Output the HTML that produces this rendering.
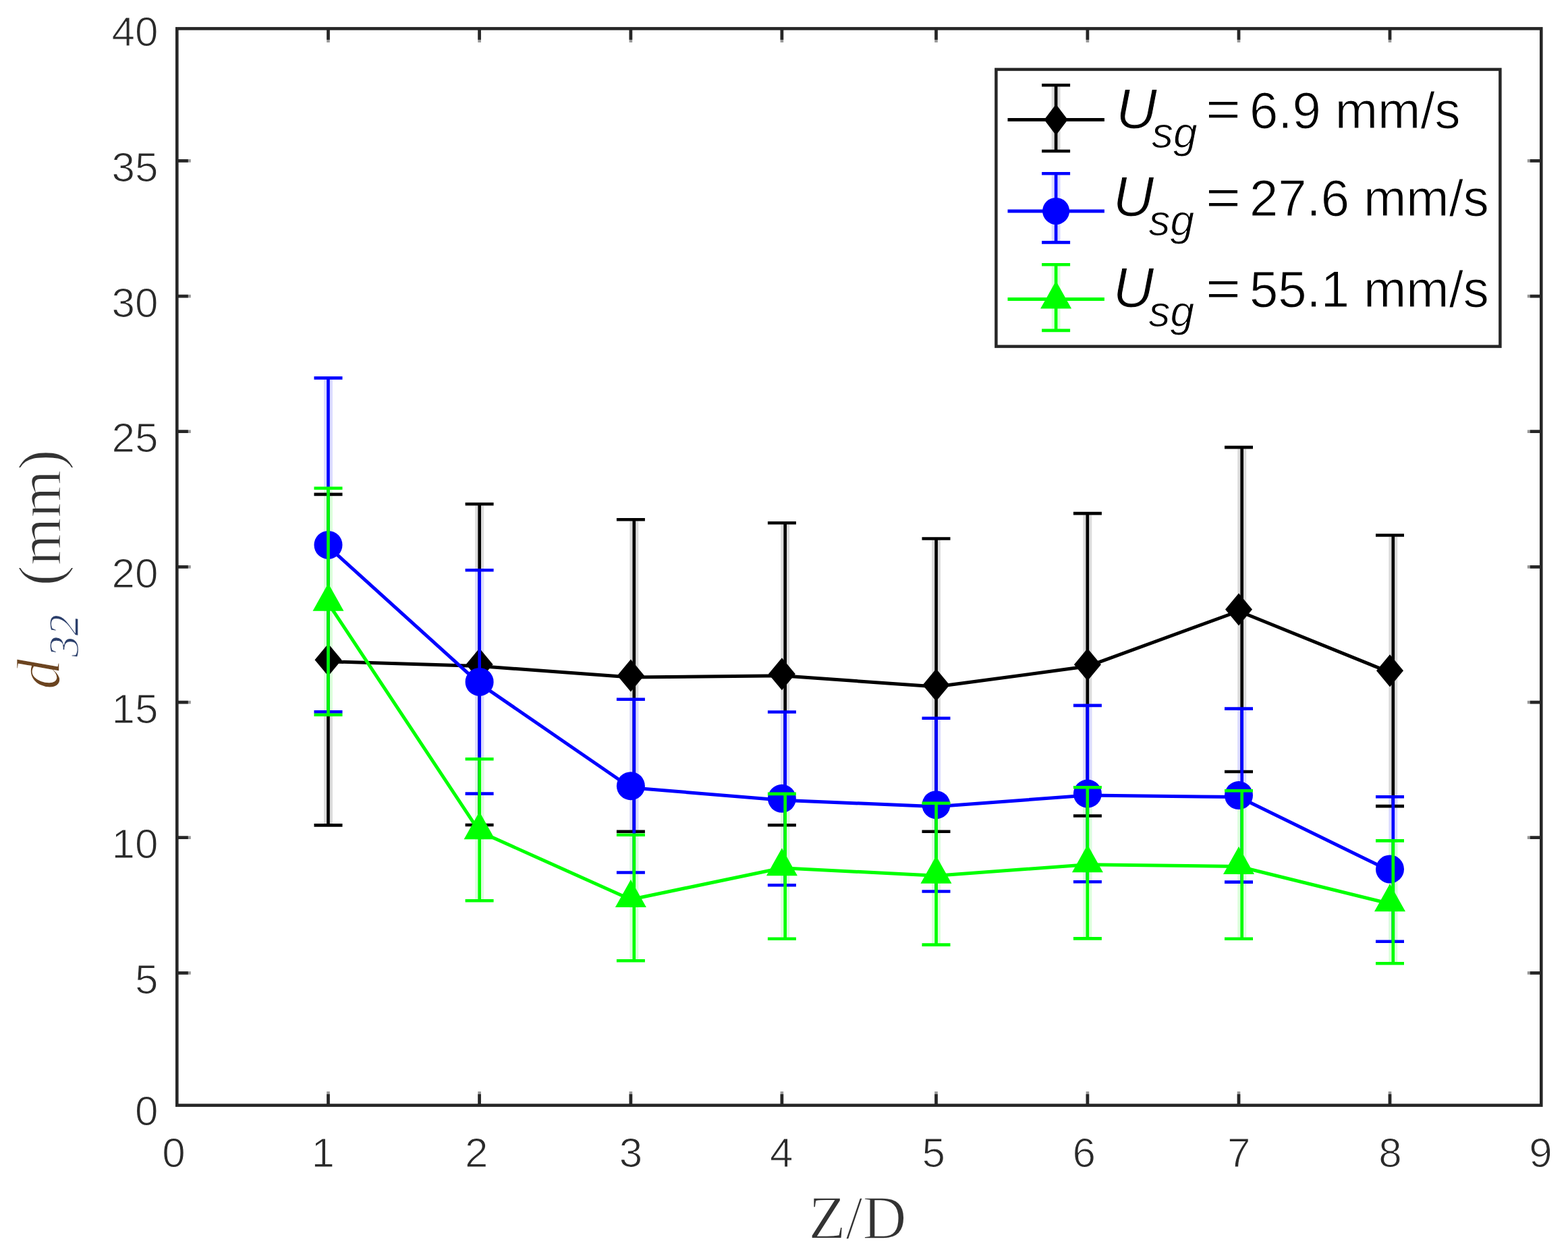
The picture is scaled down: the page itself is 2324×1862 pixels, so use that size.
<!DOCTYPE html>
<html><head><meta charset="utf-8"><title>d32 vs Z/D</title>
<style>html,body{margin:0;padding:0;background:#fff;}svg{display:block;}</style>
</head><body>
<svg width="2324" height="1862" viewBox="0 0 2324 1862">
<rect width="2324" height="1862" fill="#ffffff"/>
<line x1="486.5" y1="735.2" x2="486.5" y2="1221.1" stroke="#dcdcdc" stroke-width="13"/>
<line x1="710.7" y1="749.6" x2="710.7" y2="1220.7" stroke="#dcdcdc" stroke-width="13"/>
<line x1="939.8" y1="772.6" x2="939.8" y2="1230.4" stroke="#dcdcdc" stroke-width="13"/>
<line x1="1163.7" y1="777.5" x2="1163.7" y2="1221" stroke="#dcdcdc" stroke-width="13"/>
<line x1="1387.6" y1="800.8" x2="1387.6" y2="1230.4" stroke="#dcdcdc" stroke-width="13"/>
<line x1="1611.8" y1="763.4" x2="1611.8" y2="1207.2" stroke="#dcdcdc" stroke-width="13"/>
<line x1="1840.7" y1="665.4" x2="1840.7" y2="1141.7" stroke="#dcdcdc" stroke-width="13"/>
<line x1="2064.8" y1="795.8" x2="2064.8" y2="1192.8" stroke="#dcdcdc" stroke-width="13"/>
<line x1="486.5" y1="562.7" x2="486.5" y2="1053.1" stroke="#dcdcff" stroke-width="13"/>
<line x1="710.7" y1="847.6" x2="710.7" y2="1174.3" stroke="#dcdcff" stroke-width="13"/>
<line x1="939.8" y1="1039.1" x2="939.8" y2="1291.2" stroke="#dcdcff" stroke-width="13"/>
<line x1="1163.7" y1="1057.8" x2="1163.7" y2="1309.9" stroke="#dcdcff" stroke-width="13"/>
<line x1="1387.6" y1="1067.1" x2="1387.6" y2="1319.2" stroke="#dcdcff" stroke-width="13"/>
<line x1="1611.8" y1="1048.2" x2="1611.8" y2="1304.9" stroke="#dcdcff" stroke-width="13"/>
<line x1="1840.7" y1="1052.9" x2="1840.7" y2="1305.3" stroke="#dcdcff" stroke-width="13"/>
<line x1="2064.8" y1="1183.5" x2="2064.8" y2="1393.4" stroke="#dcdcff" stroke-width="13"/>
<line x1="486.5" y1="726" x2="486.5" y2="1057.5" stroke="#dcffdc" stroke-width="13"/>
<line x1="710.7" y1="1127.5" x2="710.7" y2="1333" stroke="#dcffdc" stroke-width="13"/>
<line x1="939.8" y1="1240" x2="939.8" y2="1422" stroke="#dcffdc" stroke-width="13"/>
<line x1="1163.7" y1="1179.2" x2="1163.7" y2="1389.4" stroke="#dcffdc" stroke-width="13"/>
<line x1="1387.6" y1="1193" x2="1387.6" y2="1398.3" stroke="#dcffdc" stroke-width="13"/>
<line x1="1611.8" y1="1169.6" x2="1611.8" y2="1389.1" stroke="#dcffdc" stroke-width="13"/>
<line x1="1840.7" y1="1174.5" x2="1840.7" y2="1389.5" stroke="#dcffdc" stroke-width="13"/>
<line x1="2064.8" y1="1248.7" x2="2064.8" y2="1426" stroke="#dcffdc" stroke-width="13"/>
<polyline fill="none" stroke="#000000" stroke-width="5" stroke-linejoin="round" points="486.5,980.7 710.6,987.6 934.9,1004 1158.9,1001.8 1387.5,1018.1 1611.9,987.8 1836,906 2060,996.8"/><line x1="486.5" y1="732.9" x2="486.5" y2="1223.4" stroke="#000000" stroke-width="4.63"/><line x1="465.5" y1="732.9" x2="507.5" y2="732.9" stroke="#000000" stroke-width="4.63"/><line x1="465.5" y1="1223.4" x2="507.5" y2="1223.4" stroke="#000000" stroke-width="4.63"/><line x1="710.7" y1="747.3" x2="710.7" y2="1223" stroke="#000000" stroke-width="4.63"/><line x1="689.6" y1="747.3" x2="731.6" y2="747.3" stroke="#000000" stroke-width="4.63"/><line x1="689.6" y1="1223" x2="731.6" y2="1223" stroke="#000000" stroke-width="4.63"/><line x1="939.8" y1="770.3" x2="939.8" y2="1232.7" stroke="#000000" stroke-width="4.63"/><line x1="913.9" y1="770.3" x2="955.9" y2="770.3" stroke="#000000" stroke-width="4.63"/><line x1="913.9" y1="1232.7" x2="955.9" y2="1232.7" stroke="#000000" stroke-width="4.63"/><line x1="1163.7" y1="775.2" x2="1163.7" y2="1223.3" stroke="#000000" stroke-width="4.63"/><line x1="1137.9" y1="775.2" x2="1179.9" y2="775.2" stroke="#000000" stroke-width="4.63"/><line x1="1137.9" y1="1223.3" x2="1179.9" y2="1223.3" stroke="#000000" stroke-width="4.63"/><line x1="1387.6" y1="798.5" x2="1387.6" y2="1232.7" stroke="#000000" stroke-width="4.63"/><line x1="1366.5" y1="798.5" x2="1408.5" y2="798.5" stroke="#000000" stroke-width="4.63"/><line x1="1366.5" y1="1232.7" x2="1408.5" y2="1232.7" stroke="#000000" stroke-width="4.63"/><line x1="1611.8" y1="761.1" x2="1611.8" y2="1209.5" stroke="#000000" stroke-width="4.63"/><line x1="1590.9" y1="761.1" x2="1632.9" y2="761.1" stroke="#000000" stroke-width="4.63"/><line x1="1590.9" y1="1209.5" x2="1632.9" y2="1209.5" stroke="#000000" stroke-width="4.63"/><line x1="1840.7" y1="663.1" x2="1840.7" y2="1144" stroke="#000000" stroke-width="4.63"/><line x1="1815" y1="663.1" x2="1857" y2="663.1" stroke="#000000" stroke-width="4.63"/><line x1="1815" y1="1144" x2="1857" y2="1144" stroke="#000000" stroke-width="4.63"/><line x1="2064.8" y1="793.5" x2="2064.8" y2="1195.1" stroke="#000000" stroke-width="4.63"/><line x1="2039" y1="793.5" x2="2081" y2="793.5" stroke="#000000" stroke-width="4.63"/><line x1="2039" y1="1195.1" x2="2081" y2="1195.1" stroke="#000000" stroke-width="4.63"/><polygon points="486.5,954.2 506.5,978.2 486.5,1002.2 466.5,978.2" fill="#000"/><polygon points="710.6,961.1 730.6,985.1 710.6,1009.1 690.6,985.1" fill="#000"/><polygon points="934.9,977.5 954.9,1001.5 934.9,1025.5 914.9,1001.5" fill="#000"/><polygon points="1158.9,975.2 1178.9,999.2 1158.9,1023.2 1138.9,999.2" fill="#000"/><polygon points="1387.5,991.6 1407.5,1015.6 1387.5,1039.6 1367.5,1015.6" fill="#000"/><polygon points="1611.9,961.3 1631.9,985.3 1611.9,1009.3 1591.9,985.3" fill="#000"/><polygon points="1836,879.5 1856,903.5 1836,927.5 1816,903.5" fill="#000"/><polygon points="2060,970.3 2080,994.3 2060,1018.3 2040,994.3" fill="#000"/>
<polyline fill="none" stroke="#0000ff" stroke-width="5" stroke-linejoin="round" points="486.5,810.4 710.6,1013.4 934.9,1167.7 1158.9,1186.3 1387.5,1195.7 1611.9,1179.1 1836,1181.6 2060,1291"/><line x1="486.5" y1="560.4" x2="486.5" y2="1055.4" stroke="#0000ff" stroke-width="4.63"/><line x1="465.5" y1="560.4" x2="507.5" y2="560.4" stroke="#0000ff" stroke-width="4.63"/><line x1="465.5" y1="1055.4" x2="507.5" y2="1055.4" stroke="#0000ff" stroke-width="4.63"/><line x1="710.7" y1="845.3" x2="710.7" y2="1176.6" stroke="#0000ff" stroke-width="4.63"/><line x1="689.6" y1="845.3" x2="731.6" y2="845.3" stroke="#0000ff" stroke-width="4.63"/><line x1="689.6" y1="1176.6" x2="731.6" y2="1176.6" stroke="#0000ff" stroke-width="4.63"/><line x1="939.8" y1="1036.8" x2="939.8" y2="1293.5" stroke="#0000ff" stroke-width="4.63"/><line x1="913.9" y1="1036.8" x2="955.9" y2="1036.8" stroke="#0000ff" stroke-width="4.63"/><line x1="913.9" y1="1293.5" x2="955.9" y2="1293.5" stroke="#0000ff" stroke-width="4.63"/><line x1="1163.7" y1="1055.5" x2="1163.7" y2="1312.2" stroke="#0000ff" stroke-width="4.63"/><line x1="1137.9" y1="1055.5" x2="1179.9" y2="1055.5" stroke="#0000ff" stroke-width="4.63"/><line x1="1137.9" y1="1312.2" x2="1179.9" y2="1312.2" stroke="#0000ff" stroke-width="4.63"/><line x1="1387.6" y1="1064.8" x2="1387.6" y2="1321.5" stroke="#0000ff" stroke-width="4.63"/><line x1="1366.5" y1="1064.8" x2="1408.5" y2="1064.8" stroke="#0000ff" stroke-width="4.63"/><line x1="1366.5" y1="1321.5" x2="1408.5" y2="1321.5" stroke="#0000ff" stroke-width="4.63"/><line x1="1611.8" y1="1045.9" x2="1611.8" y2="1307.2" stroke="#0000ff" stroke-width="4.63"/><line x1="1590.9" y1="1045.9" x2="1632.9" y2="1045.9" stroke="#0000ff" stroke-width="4.63"/><line x1="1590.9" y1="1307.2" x2="1632.9" y2="1307.2" stroke="#0000ff" stroke-width="4.63"/><line x1="1840.7" y1="1050.6" x2="1840.7" y2="1307.6" stroke="#0000ff" stroke-width="4.63"/><line x1="1815" y1="1050.6" x2="1857" y2="1050.6" stroke="#0000ff" stroke-width="4.63"/><line x1="1815" y1="1307.6" x2="1857" y2="1307.6" stroke="#0000ff" stroke-width="4.63"/><line x1="2064.8" y1="1181.2" x2="2064.8" y2="1395.7" stroke="#0000ff" stroke-width="4.63"/><line x1="2039" y1="1181.2" x2="2081" y2="1181.2" stroke="#0000ff" stroke-width="4.63"/><line x1="2039" y1="1395.7" x2="2081" y2="1395.7" stroke="#0000ff" stroke-width="4.63"/><circle cx="486.5" cy="807.9" r="21" fill="#0000ff"/><circle cx="710.6" cy="1010.9" r="21" fill="#0000ff"/><circle cx="934.9" cy="1165.2" r="21" fill="#0000ff"/><circle cx="1158.9" cy="1183.8" r="21" fill="#0000ff"/><circle cx="1387.5" cy="1193.2" r="21" fill="#0000ff"/><circle cx="1611.9" cy="1176.6" r="21" fill="#0000ff"/><circle cx="1836" cy="1179.1" r="21" fill="#0000ff"/><circle cx="2060" cy="1288.5" r="21" fill="#0000ff"/>
<polyline fill="none" stroke="#00ff00" stroke-width="5" stroke-linejoin="round" points="486.5,894.3 710.6,1232.8 934.9,1333.5 1158.9,1286.8 1387.5,1298.2 1611.9,1281.8 1836,1284.5 2060,1339.8"/><line x1="486.5" y1="723.8" x2="486.5" y2="1059.8" stroke="#00ff00" stroke-width="4.63"/><line x1="465.5" y1="723.8" x2="507.5" y2="723.8" stroke="#00ff00" stroke-width="4.63"/><line x1="465.5" y1="1059.8" x2="507.5" y2="1059.8" stroke="#00ff00" stroke-width="4.63"/><line x1="710.7" y1="1125.2" x2="710.7" y2="1335.3" stroke="#00ff00" stroke-width="4.63"/><line x1="689.6" y1="1125.2" x2="731.6" y2="1125.2" stroke="#00ff00" stroke-width="4.63"/><line x1="689.6" y1="1335.3" x2="731.6" y2="1335.3" stroke="#00ff00" stroke-width="4.63"/><line x1="939.8" y1="1237.7" x2="939.8" y2="1424.3" stroke="#00ff00" stroke-width="4.63"/><line x1="913.9" y1="1237.7" x2="955.9" y2="1237.7" stroke="#00ff00" stroke-width="4.63"/><line x1="913.9" y1="1424.3" x2="955.9" y2="1424.3" stroke="#00ff00" stroke-width="4.63"/><line x1="1163.7" y1="1176.9" x2="1163.7" y2="1391.7" stroke="#00ff00" stroke-width="4.63"/><line x1="1137.9" y1="1176.9" x2="1179.9" y2="1176.9" stroke="#00ff00" stroke-width="4.63"/><line x1="1137.9" y1="1391.7" x2="1179.9" y2="1391.7" stroke="#00ff00" stroke-width="4.63"/><line x1="1387.6" y1="1190.7" x2="1387.6" y2="1400.6" stroke="#00ff00" stroke-width="4.63"/><line x1="1366.5" y1="1190.7" x2="1408.5" y2="1190.7" stroke="#00ff00" stroke-width="4.63"/><line x1="1366.5" y1="1400.6" x2="1408.5" y2="1400.6" stroke="#00ff00" stroke-width="4.63"/><line x1="1611.8" y1="1167.3" x2="1611.8" y2="1391.4" stroke="#00ff00" stroke-width="4.63"/><line x1="1590.9" y1="1167.3" x2="1632.9" y2="1167.3" stroke="#00ff00" stroke-width="4.63"/><line x1="1590.9" y1="1391.4" x2="1632.9" y2="1391.4" stroke="#00ff00" stroke-width="4.63"/><line x1="1840.7" y1="1172.2" x2="1840.7" y2="1391.8" stroke="#00ff00" stroke-width="4.63"/><line x1="1815" y1="1172.2" x2="1857" y2="1172.2" stroke="#00ff00" stroke-width="4.63"/><line x1="1815" y1="1391.8" x2="1857" y2="1391.8" stroke="#00ff00" stroke-width="4.63"/><line x1="2064.8" y1="1246.4" x2="2064.8" y2="1428.3" stroke="#00ff00" stroke-width="4.63"/><line x1="2039" y1="1246.4" x2="2081" y2="1246.4" stroke="#00ff00" stroke-width="4.63"/><line x1="2039" y1="1428.3" x2="2081" y2="1428.3" stroke="#00ff00" stroke-width="4.63"/><polygon points="486.5,864.8 509.5,905.8 463.5,905.8" fill="#00ff00"/><polygon points="710.6,1203.2 733.6,1244.2 687.6,1244.2" fill="#00ff00"/><polygon points="934.9,1304 957.9,1345 911.9,1345" fill="#00ff00"/><polygon points="1158.9,1257.3 1181.9,1298.3 1135.9,1298.3" fill="#00ff00"/><polygon points="1387.5,1268.7 1410.5,1309.7 1364.5,1309.7" fill="#00ff00"/><polygon points="1611.9,1252.3 1634.9,1293.3 1588.9,1293.3" fill="#00ff00"/><polygon points="1836,1255 1859,1296 1813,1296" fill="#00ff00"/><polygon points="2060,1310.3 2083,1351.3 2037,1351.3" fill="#00ff00"/>
<g stroke="#999" stroke-width="4.6"><line x1="262.3" y1="1442.4" x2="282.8" y2="1442.4"/><line x1="2284.3" y1="1442.4" x2="2263.8" y2="1442.4"/><line x1="262.3" y1="1241.7" x2="282.8" y2="1241.7"/><line x1="2284.3" y1="1241.7" x2="2263.8" y2="1241.7"/><line x1="262.3" y1="1041.1" x2="282.8" y2="1041.1"/><line x1="2284.3" y1="1041.1" x2="2263.8" y2="1041.1"/><line x1="262.3" y1="840.4" x2="282.8" y2="840.4"/><line x1="2284.3" y1="840.4" x2="2263.8" y2="840.4"/><line x1="262.3" y1="639.7" x2="282.8" y2="639.7"/><line x1="2284.3" y1="639.7" x2="2263.8" y2="639.7"/><line x1="262.3" y1="439.1" x2="282.8" y2="439.1"/><line x1="2284.3" y1="439.1" x2="2263.8" y2="439.1"/><line x1="262.3" y1="238.4" x2="282.8" y2="238.4"/><line x1="2284.3" y1="238.4" x2="2263.8" y2="238.4"/><line x1="486.5" y1="42.4" x2="486.5" y2="62.9"/><line x1="486.5" y1="1638.6" x2="486.5" y2="1618.1"/><line x1="710.6" y1="42.4" x2="710.6" y2="62.9"/><line x1="710.6" y1="1638.6" x2="710.6" y2="1618.1"/><line x1="934.9" y1="42.4" x2="934.9" y2="62.9"/><line x1="934.9" y1="1638.6" x2="934.9" y2="1618.1"/><line x1="1158.9" y1="42.4" x2="1158.9" y2="62.9"/><line x1="1158.9" y1="1638.6" x2="1158.9" y2="1618.1"/><line x1="1387.5" y1="42.4" x2="1387.5" y2="62.9"/><line x1="1387.5" y1="1638.6" x2="1387.5" y2="1618.1"/><line x1="1611.9" y1="42.4" x2="1611.9" y2="62.9"/><line x1="1611.9" y1="1638.6" x2="1611.9" y2="1618.1"/><line x1="1836" y1="42.4" x2="1836" y2="62.9"/><line x1="1836" y1="1638.6" x2="1836" y2="1618.1"/><line x1="2060" y1="42.4" x2="2060" y2="62.9"/><line x1="2060" y1="1638.6" x2="2060" y2="1618.1"/></g>
<g stroke="#262626" stroke-width="4.6"><line x1="262.3" y1="1442.4" x2="278.8" y2="1442.4"/><line x1="2284.3" y1="1442.4" x2="2267.8" y2="1442.4"/><line x1="262.3" y1="1241.7" x2="278.8" y2="1241.7"/><line x1="2284.3" y1="1241.7" x2="2267.8" y2="1241.7"/><line x1="262.3" y1="1041.1" x2="278.8" y2="1041.1"/><line x1="2284.3" y1="1041.1" x2="2267.8" y2="1041.1"/><line x1="262.3" y1="840.4" x2="278.8" y2="840.4"/><line x1="2284.3" y1="840.4" x2="2267.8" y2="840.4"/><line x1="262.3" y1="639.7" x2="278.8" y2="639.7"/><line x1="2284.3" y1="639.7" x2="2267.8" y2="639.7"/><line x1="262.3" y1="439.1" x2="278.8" y2="439.1"/><line x1="2284.3" y1="439.1" x2="2267.8" y2="439.1"/><line x1="262.3" y1="238.4" x2="278.8" y2="238.4"/><line x1="2284.3" y1="238.4" x2="2267.8" y2="238.4"/><line x1="486.5" y1="42.4" x2="486.5" y2="58.9"/><line x1="486.5" y1="1638.6" x2="486.5" y2="1622.1"/><line x1="710.6" y1="42.4" x2="710.6" y2="58.9"/><line x1="710.6" y1="1638.6" x2="710.6" y2="1622.1"/><line x1="934.9" y1="42.4" x2="934.9" y2="58.9"/><line x1="934.9" y1="1638.6" x2="934.9" y2="1622.1"/><line x1="1158.9" y1="42.4" x2="1158.9" y2="58.9"/><line x1="1158.9" y1="1638.6" x2="1158.9" y2="1622.1"/><line x1="1387.5" y1="42.4" x2="1387.5" y2="58.9"/><line x1="1387.5" y1="1638.6" x2="1387.5" y2="1622.1"/><line x1="1611.9" y1="42.4" x2="1611.9" y2="58.9"/><line x1="1611.9" y1="1638.6" x2="1611.9" y2="1622.1"/><line x1="1836" y1="42.4" x2="1836" y2="58.9"/><line x1="1836" y1="1638.6" x2="1836" y2="1622.1"/><line x1="2060" y1="42.4" x2="2060" y2="58.9"/><line x1="2060" y1="1638.6" x2="2060" y2="1622.1"/></g>
<rect x="262.3" y="42.4" width="2022" height="1596.2" fill="none" stroke="#262626" stroke-width="4.6"/>
<g font-family="Liberation Sans, Arial, Helvetica, sans-serif" font-size="62" fill="#2a2a2a" stroke="#fff" stroke-width="1.2"><text x="234.5" y="1667.6" text-anchor="end">0</text><text x="234.5" y="1472.8" text-anchor="end">5</text><text x="234.5" y="1272.1" text-anchor="end">10</text><text x="234.5" y="1071.5" text-anchor="end">15</text><text x="234.5" y="870.8" text-anchor="end">20</text><text x="234.5" y="670.1" text-anchor="end">25</text><text x="234.5" y="469.5" text-anchor="end">30</text><text x="234.5" y="268.8" text-anchor="end">35</text><text x="234.5" y="68.1" text-anchor="end">40</text><text x="257.5" y="1730" text-anchor="middle">0</text><text x="478.7" y="1730" text-anchor="middle">1</text><text x="706.2" y="1730" text-anchor="middle">2</text><text x="934.9" y="1730" text-anchor="middle">3</text><text x="1158.3" y="1730" text-anchor="middle">4</text><text x="1383.7" y="1730" text-anchor="middle">5</text><text x="1606.7" y="1730" text-anchor="middle">6</text><text x="1836.2" y="1730" text-anchor="middle">7</text><text x="2060.4" y="1730" text-anchor="middle">8</text><text x="2283.5" y="1730" text-anchor="middle">9</text></g>
<text x="1271" y="1836" text-anchor="middle" font-family="Liberation Serif, Times New Roman, serif" font-size="90" fill="#333" stroke="#fff" stroke-width="1.6">Z/D</text>
<g transform="translate(88,1022) rotate(-90)" font-family="Liberation Serif, Times New Roman, serif" fill="#262626"><text x="0" y="0" font-size="90" font-style="italic" fill="#6b4420" stroke="#fff" stroke-width="1.6">d</text><text x="48" y="28" font-size="63" font-style="italic" fill="#2b3f6b" stroke="#fff" stroke-width="1.2">32</text><text x="153.5" y="2" font-size="91" fill="#333" stroke="#fff" stroke-width="1.6">(mm)</text></g>
<rect x="1476.4" y="102.9" width="747" height="410.7" fill="#ffffff" stroke="#262626" stroke-width="4.5"/>
<line x1="1493.5" y1="177.5" x2="1636.9" y2="177.5" stroke="#000000" stroke-width="5"/>
<line x1="1565.1" y1="128.6" x2="1565.1" y2="221.7" stroke="#dcdcdc" stroke-width="13"/><line x1="1565.1" y1="126.3" x2="1565.1" y2="224" stroke="#000000" stroke-width="4.63"/><line x1="1544.1" y1="126.3" x2="1586.1" y2="126.3" stroke="#000000" stroke-width="4.63"/><line x1="1544.1" y1="224" x2="1586.1" y2="224" stroke="#000000" stroke-width="4.63"/>
<polygon points="1565.1,154.5 1582.6,177.5 1565.1,200.5 1547.6,177.5" fill="#000"/>
<g font-family="Liberation Sans, Arial, sans-serif" fill="#000" stroke="#fff" stroke-width="1.0"><text x="1654" y="189.8" font-size="84" font-style="italic">U</text><text x="1707" y="218.8" font-size="64" font-style="italic">sg</text><text x="1787" y="188.3" font-size="76" textLength="52" lengthAdjust="spacingAndGlyphs">=</text><text x="1852" y="189.8" font-size="76">6.9 mm/s</text></g>
<line x1="1493.5" y1="312.9" x2="1636.9" y2="312.9" stroke="#0000ff" stroke-width="5"/>
<line x1="1565.1" y1="259.5" x2="1565.1" y2="357.1" stroke="#dcdcff" stroke-width="13"/><line x1="1565.1" y1="257.2" x2="1565.1" y2="359.4" stroke="#0000ff" stroke-width="4.63"/><line x1="1544.1" y1="257.2" x2="1586.1" y2="257.2" stroke="#0000ff" stroke-width="4.63"/><line x1="1544.1" y1="359.4" x2="1586.1" y2="359.4" stroke="#0000ff" stroke-width="4.63"/>
<circle cx="1565.1" cy="312.9" r="20" fill="#0000ff"/>
<g font-family="Liberation Sans, Arial, sans-serif" fill="#000" stroke="#fff" stroke-width="1.0"><text x="1649.5" y="320" font-size="84" font-style="italic">U</text><text x="1702.5" y="349" font-size="64" font-style="italic">sg</text><text x="1787" y="318.5" font-size="76" textLength="52" lengthAdjust="spacingAndGlyphs">=</text><text x="1852" y="320" font-size="76">27.6 mm/s</text></g>
<line x1="1493.5" y1="443.6" x2="1636.9" y2="443.6" stroke="#00ff00" stroke-width="5"/>
<line x1="1565.1" y1="394.5" x2="1565.1" y2="487.6" stroke="#dcffdc" stroke-width="13"/><line x1="1565.1" y1="392.2" x2="1565.1" y2="489.9" stroke="#00ff00" stroke-width="4.63"/><line x1="1544.1" y1="392.2" x2="1586.1" y2="392.2" stroke="#00ff00" stroke-width="4.63"/><line x1="1544.1" y1="489.9" x2="1586.1" y2="489.9" stroke="#00ff00" stroke-width="4.63"/>
<polygon points="1565.1,416.6 1588.1,457.6 1542.1,457.6" fill="#00ff00"/>
<g font-family="Liberation Sans, Arial, sans-serif" fill="#000" stroke="#fff" stroke-width="1.0"><text x="1649.5" y="455" font-size="84" font-style="italic">U</text><text x="1702.5" y="484" font-size="64" font-style="italic">sg</text><text x="1787" y="453.5" font-size="76" textLength="52" lengthAdjust="spacingAndGlyphs">=</text><text x="1852" y="455" font-size="76">55.1 mm/s</text></g>
</svg>
</body></html>
